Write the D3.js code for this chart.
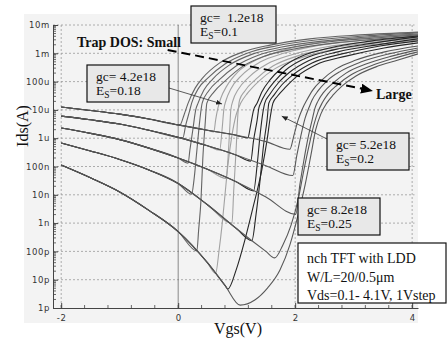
<!DOCTYPE html>
<html>
<head>
<meta charset="utf-8">
<script src="https://cdn.jsdelivr.net/npm/d3@7"></script>
<style>
  body { margin: 0; background: #fff; }
  svg { display: block; }
  .tick text { font-family: "DejaVu Sans", sans-serif; font-size: 8.5px; fill: #333; letter-spacing: 0.6px; }
  .serif { font-family: "Liberation Serif", "Times New Roman", serif; fill: #111; white-space: pre; }
</style>
</head>
<body>
<div id="chart"></div>
<script>
// Vds = 0.1 .. 4.1 V in 1 V steps (index 0..4)
const vds = [0.1, 1.1, 2.1, 3.1, 4.1];
const yTickLabels = ["1p", "10p", "100p", "1n", "10n", "100n", "1u", "10u", "100u", "1m", "10m"];
const xTickValues = [-2, 0, 2, 4];

// off-state (leakage) branch for each Vds, [Vgs, log10(Ids)], shared by all trap densities
const leak = [
  [[-2, -6.95], [-1.5, -7.4], [-1, -7.9], [-0.5, -8.55], [0, -9.3], [0.5, -10.4], [0.8, -11.2], [1.06, -11.9]],
  [[-2, -6.17], [-1.5, -6.45], [-1, -6.75], [-0.5, -7.12], [0, -7.6], [0.5, -8.35], [1, -9.2], [1.5, -10.0]],
  [[-2, -5.64], [-1.5, -5.83], [-1, -6.05], [-0.5, -6.35], [0, -6.7], [0.5, -7.1], [1, -7.55], [1.5, -8.08], [2, -8.66]],
  [[-2, -5.22], [-1.5, -5.35], [-1, -5.5], [-0.5, -5.72], [0, -5.97], [0.5, -6.27], [1, -6.6], [1.5, -6.97], [2, -7.35]],
  [[-2, -4.90], [-1.5, -5.02], [-1, -5.15], [-0.5, -5.32], [0, -5.53], [0.5, -5.72], [1, -5.90], [1.5, -6.12], [2, -6.45]]
];

// turn-on branches, gc = 1.2e18, Es = 0.1
const branchA = [
  [[0.32, -9.98], [0.35, -9.24], [0.39, -8.18], [0.42, -6.77], [0.46, -5.53], [0.49, -4.76], [0.61, -4.37], [0.80, -3.98], [1.09, -3.48], [1.48, -3.10], [1.98, -2.85], [2.66, -2.64], [3.45, -2.49], [4.10, -2.39]],
  [[0.23, -7.98], [0.27, -7.48], [0.32, -6.42], [0.37, -5.36], [0.41, -4.76], [0.52, -4.33], [0.70, -3.94], [0.99, -3.45], [1.38, -3.06], [1.88, -2.81], [2.56, -2.60], [3.36, -2.46], [4.10, -2.35]],
  [[0.17, -6.88], [0.20, -6.42], [0.25, -5.71], [0.30, -5.0], [0.34, -4.76], [0.44, -4.30], [0.59, -3.91], [0.88, -3.41], [1.28, -3.02], [1.77, -2.78], [2.46, -2.57], [3.28, -2.42], [4.10, -2.32]],
  [[0.08, -5.99], [0.13, -5.53], [0.20, -5.0], [0.23, -4.76], [0.35, -4.23], [0.51, -3.87], [0.80, -3.38], [1.19, -2.99], [1.67, -2.74], [2.35, -2.53], [3.19, -2.39], [4.10, -2.28]],
  [[0.03, -5.53], [0.10, -5.18], [0.17, -4.76], [0.29, -4.23], [0.42, -3.87], [0.71, -3.34], [1.11, -2.95], [1.57, -2.71], [2.25, -2.49], [3.11, -2.35], [4.10, -2.25]]
];

// gc = 4.2e18, Es = 0.18
const branchB = [
  [[0.64, -10.78], [0.70, -9.95], [0.75, -9.07], [0.80, -8.01], [0.85, -6.95], [0.92, -5.89], [0.99, -5.18], [1.07, -4.76], [1.19, -4.40], [1.38, -3.98], [1.65, -3.55], [2.04, -3.20], [2.63, -2.88], [3.41, -2.67], [4.10, -2.53]],
  [[0.92, -9.0], [0.95, -7.83], [0.99, -6.42], [1.02, -5.18], [1.05, -4.65], [1.14, -4.33], [1.33, -3.91], [1.62, -3.45], [2.03, -3.10], [2.63, -2.81], [3.45, -2.60], [4.10, -2.46]],
  [[0.82, -7.42], [0.85, -6.77], [0.88, -5.71], [0.90, -5.0], [0.94, -4.65], [1.02, -4.30], [1.21, -3.84], [1.52, -3.38], [1.93, -3.06], [2.52, -2.78], [3.36, -2.57], [4.10, -2.42]],
  [[0.71, -6.42], [0.75, -5.71], [0.78, -5.0], [0.82, -4.65], [0.90, -4.26], [1.09, -3.77], [1.40, -3.31], [1.82, -2.99], [2.42, -2.71], [3.28, -2.53], [4.10, -2.39]],
  [[0.61, -5.78], [0.64, -5.36], [0.68, -4.93], [0.73, -4.58], [0.83, -4.16], [1.02, -3.66], [1.33, -3.24], [1.74, -2.92], [2.34, -2.64], [3.19, -2.46], [4.10, -2.35]]
];

// gc = 5.2e18, Es = 0.2
const branchC = [
  [[0.85, -11.33], [0.99, -10.66], [1.14, -9.60], [1.29, -8.36], [1.43, -7.12], [1.52, -6.06], [1.58, -5.18], [1.62, -4.76], [1.70, -4.51], [1.84, -4.19], [2.04, -3.80], [2.35, -3.41], [2.87, -3.10], [3.52, -2.81], [4.10, -2.63]],
  [[1.26, -9.62], [1.33, -8.71], [1.40, -7.48], [1.46, -6.24], [1.52, -5.36], [1.55, -4.76], [1.64, -4.47], [1.77, -4.12], [1.98, -3.73], [2.29, -3.34], [2.80, -3.02], [3.45, -2.74], [4.10, -2.56]],
  [[1.29, -7.86], [1.35, -6.95], [1.40, -5.89], [1.45, -5.07], [1.48, -4.76], [1.57, -4.44], [1.71, -4.05], [1.91, -3.66], [2.22, -3.27], [2.73, -2.95], [3.38, -2.71], [4.10, -2.49]],
  [[1.24, -6.81], [1.29, -6.06], [1.35, -5.36], [1.38, -4.93], [1.41, -4.76], [1.50, -4.40], [1.64, -4.01], [1.84, -3.59], [2.15, -3.20], [2.66, -2.88], [3.33, -2.64], [4.10, -2.42]],
  [[1.19, -5.99], [1.24, -5.53], [1.29, -5.0], [1.35, -4.76], [1.43, -4.37], [1.57, -3.94], [1.77, -3.52], [2.08, -3.13], [2.59, -2.81], [3.28, -2.57], [4.10, -2.39]]
];

// gc = 8.2e18, Es = 0.25
const branchD = [
  [[1.31, -11.72], [1.53, -11.29], [1.74, -10.66], [1.91, -9.77], [2.05, -8.71], [2.17, -7.65], [2.27, -6.59], [2.35, -5.71], [2.44, -5.14], [2.54, -4.76], [2.65, -4.47], [2.80, -4.16], [3.04, -3.80], [3.38, -3.48], [3.76, -3.24], [4.10, -3.02]],
  [[1.65, -10.23], [1.79, -9.77], [1.93, -9.07], [2.05, -8.18], [2.15, -7.12], [2.24, -6.24], [2.32, -5.53], [2.39, -5.07], [2.46, -4.76], [2.56, -4.44], [2.72, -4.12], [2.95, -3.77], [3.29, -3.45], [3.70, -3.17], [4.10, -2.95]],
  [[2.01, -8.69], [2.08, -7.65], [2.15, -6.77], [2.22, -5.99], [2.29, -5.36], [2.34, -4.93], [2.39, -4.69], [2.49, -4.37], [2.65, -4.05], [2.87, -3.70], [3.21, -3.38], [3.65, -3.10], [4.10, -2.88]],
  [[1.96, -7.32], [2.03, -6.59], [2.10, -5.89], [2.17, -5.29], [2.24, -4.90], [2.29, -4.65], [2.39, -4.33], [2.54, -3.98], [2.78, -3.63], [3.12, -3.31], [3.60, -3.02], [4.10, -2.81]],
  [[1.91, -6.39], [1.98, -5.89], [2.05, -5.36], [2.13, -4.93], [2.20, -4.65], [2.30, -4.30], [2.46, -3.94], [2.70, -3.55], [3.04, -3.24], [3.53, -2.95], [4.10, -2.74]]
];

const groupBranches = [branchB, branchA, branchC, branchD]; // drawing order
const groupColors = ["#a2a2a2", "#646464", "#262626", "#585858"];

const width = 448, height = 340;

let svg = d3.select("#chart")
    .append("svg")
    .attr("width", width)
    .attr("height", height);

let x = d3.scaleLinear()
    .domain([-2.14, 4.1])
    .range([53, 418]);

let y = d3.scaleLog()
    .domain([1e-12, 1e-2])
    .range([308, 25]);

// light grey plot panel
svg.append("rect")
    .attr("x", 24).attr("y", 14)
    .attr("width", 394).attr("height", 309)
    .attr("fill", "#f3f3f3");

const decades = d3.range(-12, -1).map(e => Math.pow(10, e));

// grid
svg.append("g").selectAll("line")
    .data(decades.slice(1))
    .join("line")
    .attr("x1", 53).attr("x2", x(4.04))
    .attr("y1", d => y(d)).attr("y2", d => y(d))
    .attr("stroke", "#999").attr("stroke-width", 0.8)
    .attr("stroke-dasharray", "2,2");

svg.append("g").selectAll("line")
    .data(xTickValues)
    .join("line")
    .attr("x1", d => x(d)).attr("x2", d => x(d))
    .attr("y1", y(1e-2)).attr("y2", y(1e-12))
    .attr("stroke", d => d === 0 ? "#6e6e6e" : "#999")
    .attr("stroke-width", 0.8)
    .attr("stroke-dasharray", d => d === 0 ? null : "2,2");

// curves
svg.append("clipPath").attr("id", "plotclip")
    .append("rect").attr("x", 53).attr("y", 25).attr("width", 365).attr("height", 283);

let line = d3.line()
    .x(d => x(d[0]))
    .y(d => y(Math.pow(10, d[1])))
    .curve(d3.curveMonotoneX);

let curves = svg.append("g").attr("clip-path", "url(#plotclip)");

groupBranches.forEach((branches, g) => {
    branches.forEach((branch, k) => {
        let knee = branch[0][0];
        let pts = leak[k].filter(p => p[0] < knee - 0.03).concat(branch);
        curves.append("path")
            .attr("d", line(pts))
            .attr("fill", "none")
            .attr("stroke", groupColors[g])
            .attr("stroke-width", 1.1);
    });
});

// axes
svg.append("g")
    .attr("transform", "translate(53,0)")
    .call(d3.axisLeft(y)
        .tickValues(decades)
        .tickFormat((d, i) => yTickLabels[i])
        .tickSizeInner(-5)
        .tickSizeOuter(0)
        .tickPadding(3));

let minorY = [];
for (let e = -12; e < -2; e++) for (let m = 2; m < 10; m++) minorY.push(m * Math.pow(10, e));
svg.append("g").selectAll("line")
    .data(minorY)
    .join("line")
    .attr("x1", 53).attr("x2", 56)
    .attr("y1", d => y(d)).attr("y2", d => y(d))
    .attr("stroke", "#444").attr("stroke-width", 0.8);

svg.append("g")
    .attr("transform", "translate(0,308)")
    .call(d3.axisBottom(x)
        .tickValues(xTickValues)
        .tickFormat(d => String(d))
        .tickSizeInner(-5)
        .tickSizeOuter(0)
        .tickPadding(7));

svg.append("g").selectAll("line")
    .data(d3.range(-2, 4.01, 0.4))
    .join("line")
    .attr("x1", d => x(d)).attr("x2", d => x(d))
    .attr("y1", 308).attr("y2", 305)
    .attr("stroke", "#444").attr("stroke-width", 0.8);

svg.selectAll(".domain, .tick line").attr("stroke", "#444");

// axis titles
svg.append("text")
    .attr("class", "serif")
    .attr("transform", "translate(28,126) rotate(-90)")
    .attr("text-anchor", "middle")
    .attr("font-size", 16)
    .text("Ids(A)");

svg.append("text")
    .attr("class", "serif")
    .attr("x", 238).attr("y", 334)
    .attr("text-anchor", "middle")
    .attr("font-size", 16)
    .text("Vgs(V)");

// markers
let defs = svg.append("defs");
defs.append("marker").attr("id", "bighead")
    .attr("markerUnits", "userSpaceOnUse")
    .attr("viewBox", "0 0 12 10").attr("markerWidth", 12).attr("markerHeight", 10)
    .attr("refX", 12).attr("refY", 5).attr("orient", "auto")
    .append("path").attr("d", "M0,0L12,5L0,10Z").attr("fill", "#000");
defs.append("marker").attr("id", "smallhead")
    .attr("markerUnits", "userSpaceOnUse")
    .attr("viewBox", "0 0 6 5").attr("markerWidth", 6).attr("markerHeight", 5)
    .attr("refX", 6).attr("refY", 2.5).attr("orient", "auto")
    .append("path").attr("d", "M0,0L6,2.5L0,5Z").attr("fill", "#222");

// trap DOS arrow
svg.append("line")
    .attr("x1", x(-0.18)).attr("y1", y(Math.pow(10, -2.88)))
    .attr("x2", x(3.33)).attr("y2", y(Math.pow(10, -4.33)))
    .attr("stroke", "#000").attr("stroke-width", 2)
    .attr("stroke-dasharray", "9,5")
    .attr("marker-end", "url(#bighead)");

svg.append("text").attr("class", "serif")
    .attr("x", 77).attr("y", 46.5)
    .attr("font-size", 14).attr("font-weight", "bold")
    .text("Trap DOS: Small");

svg.append("text").attr("class", "serif")
    .attr("x", 376).attr("y", 98.5)
    .attr("font-size", 14).attr("font-weight", "bold")
    .text("Large");

// pointer lines from labels to curve bundles
svg.append("line")
    .attr("x1", 169).attr("y1", 88)
    .attr("x2", x(0.75)).attr("y2", y(Math.pow(10, -4.79)))
    .attr("stroke", "#333").attr("stroke-width", 0.8)
    .attr("marker-end", "url(#smallhead)");

svg.append("line")
    .attr("x1", 327).attr("y1", 139)
    .attr("x2", x(1.77)).attr("y2", y(Math.pow(10, -5.22)))
    .attr("stroke", "#333").attr("stroke-width", 0.8)
    .attr("marker-end", "url(#smallhead)");

// parameter boxes
const gcLabels = ["gc=  1.2e18", "gc= 4.2e18", "gc= 5.2e18", "gc= 8.2e18"];
const esLabels = ["=0.1", "=0.18", "=0.2", "=0.25"];
const boxLeft = [191, 87, 327, 298];
const boxTop = [6, 65, 133, 198];

gcLabels.forEach((lab, i) => {
    let b = svg.append("g").attr("transform", `translate(${boxLeft[i]},${boxTop[i]})`);
    b.append("rect")
        .attr("width", i === 0 ? 85 : 82).attr("height", 37)
        .attr("fill", "#e8e8e8").attr("stroke", "#111").attr("stroke-width", 1.2);
    b.append("text").attr("class", "serif")
        .attr("x", 9).attr("y", 15.5).attr("font-size", 13.5)
        .text(lab);
    let t = b.append("text").attr("class", "serif")
        .attr("x", 9).attr("y", 30).attr("font-size", 13.5);
    t.append("tspan").text("E");
    t.append("tspan").attr("font-size", 9.5).attr("dy", 2.5).text("S");
    t.append("tspan").attr("dy", -2.5).text(esLabels[i]);
});

const noteLines = ["nch TFT with LDD", "W/L=20/0.5\u03bcm", "Vds=0.1- 4.1V, 1Vstep"];
let note = svg.append("g").attr("transform", "translate(298,243)");
note.append("rect")
    .attr("width", 148).attr("height", 60)
    .attr("fill", "#fff").attr("stroke", "#111").attr("stroke-width", 1.2);
note.selectAll("text")
    .data(noteLines)
    .join("text")
    .attr("class", "serif")
    .attr("x", 9)
    .attr("y", (d, i) => 20 + i * 18.5)
    .attr("font-size", 14)
    .text(d => d);
</script>
</body>
</html>
